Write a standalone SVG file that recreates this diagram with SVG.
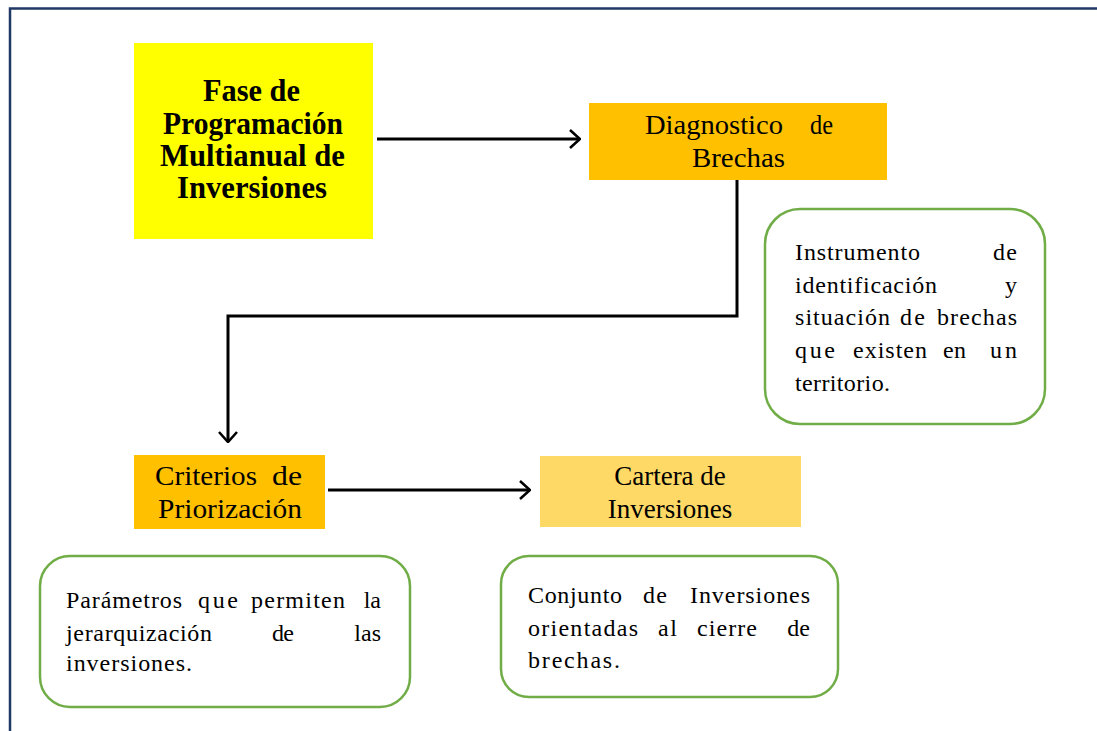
<svg xmlns="http://www.w3.org/2000/svg" width="1097" height="731" viewBox="0 0 1097 731">
<defs>
<style>
.t{font-family:"Liberation Serif","Times New Roman",serif;fill:#000}
.h{font-size:31px;font-weight:bold}
.n{font-size:27px}
.d{font-size:24px}
.e{text-anchor:end}
.note{fill:#fff;stroke:#70AD47;stroke-width:2.5}
.c{fill:none;stroke:#000;stroke-width:3}
</style>
<marker id="ah" viewBox="0 0 12 20" refX="11" refY="10" markerWidth="12" markerHeight="20" markerUnits="userSpaceOnUse" orient="auto">
<path d="M1,1 L11,10 L1,19" fill="none" stroke="#000" stroke-width="2.6"/>
</marker>
</defs>
<rect width="1097" height="731" fill="#fff"/>
<path d="M10,731 V8.5 H1097" fill="none" stroke="#1F3864" stroke-width="2.5"/>
<g id="fase">
<rect x="134" y="43" width="239" height="196" fill="#FFFF00"/>
<text class="t h" x="203" y="101" textLength="97" lengthAdjust="spacingAndGlyphs">Fase de</text>
<text class="t h" x="163" y="134" textLength="180" lengthAdjust="spacingAndGlyphs">Programación</text>
<text class="t h" x="160" y="166" textLength="185" lengthAdjust="spacingAndGlyphs">Multianual de</text>
<text class="t h" x="177" y="198" textLength="150" lengthAdjust="spacingAndGlyphs">Inversiones</text>
</g>
<g id="diagnostico">
<rect x="589" y="103" width="298" height="77" fill="#FFC000"/>
<text class="t n" x="645" y="134" textLength="138" lengthAdjust="spacingAndGlyphs">Diagnostico</text>
<text class="t n" x="810" y="134" textLength="23" lengthAdjust="spacingAndGlyphs">de</text>
<text class="t n" x="692" y="167" textLength="93" lengthAdjust="spacingAndGlyphs">Brechas</text>
</g>
<g id="nota-diagnostico">
<rect class="note" x="765" y="209" width="280" height="215" rx="35"/>
<text class="t d" x="795" y="260" textLength="125">Instrumento</text>
<text class="t d" x="993" y="260" textLength="24">de</text>
<text class="t d" x="795" y="293" textLength="142">identificación</text>
<text class="t d e" x="1017" y="293">y</text>
<text class="t d" x="795" y="325" textLength="95">situación</text>
<text class="t d" x="900" y="325" textLength="25">de</text>
<text class="t d" x="937" y="325" textLength="80">brechas</text>
<text class="t d" x="795" y="358" textLength="40">que</text>
<text class="t d" x="853" y="358" textLength="74">existen</text>
<text class="t d" x="943" y="358" textLength="23">en</text>
<text class="t d" x="990" y="358" textLength="27">un</text>
<text class="t d" x="795" y="391" textLength="95">territorio.</text>
</g>
<g id="criterios">
<rect x="134" y="455" width="191" height="74" fill="#FFC000"/>
<text class="t n" x="155" y="485" textLength="102" lengthAdjust="spacingAndGlyphs">Criterios</text>
<text class="t n" x="272" y="485" textLength="30" lengthAdjust="spacingAndGlyphs">de</text>
<text class="t n" x="158" y="518" textLength="144" lengthAdjust="spacingAndGlyphs">Priorización</text>
</g>
<g id="cartera">
<rect x="540" y="456" width="261" height="71" fill="#FFD966"/>
<text class="t n" x="670" y="485" text-anchor="middle">Cartera de</text>
<text class="t n" x="670" y="518" text-anchor="middle">Inversiones</text>
</g>
<g id="nota-criterios">
<rect class="note" x="40" y="556" width="370" height="151" rx="30"/>
<text class="t d" x="66" y="608" textLength="116">Parámetros</text>
<text class="t d" x="198" y="608" textLength="40">que</text>
<text class="t d" x="251" y="608" textLength="94">permiten</text>
<text class="t d e" x="381" y="608">la</text>
<text class="t d" x="66" y="641" textLength="146">jerarquización</text>
<text class="t d" x="272" y="641" textLength="22">de</text>
<text class="t d e" x="381" y="641">las</text>
<text class="t d" x="66" y="671" textLength="126">inversiones.</text>
</g>
<g id="nota-cartera">
<rect class="note" x="501" y="556" width="337" height="141" rx="28"/>
<text class="t d" x="528" y="603" textLength="94">Conjunto</text>
<text class="t d" x="643" y="603" textLength="24">de</text>
<text class="t d" x="690" y="603" textLength="120">Inversiones</text>
<text class="t d" x="528" y="636" textLength="110">orientadas</text>
<text class="t d" x="658" y="636" textLength="19">al</text>
<text class="t d" x="697" y="636" textLength="60">cierre</text>
<text class="t d e" x="810" y="636">de</text>
<text class="t d" x="528" y="668" textLength="92">brechas.</text>
</g>
<g id="connectors">
<path class="c" d="M377,139 H580" marker-end="url(#ah)"/>
<path class="c" d="M737,180 V316 H228 V442" marker-end="url(#ah)"/>
<path class="c" d="M328,490 H530" marker-end="url(#ah)"/>
</g>
</svg>
